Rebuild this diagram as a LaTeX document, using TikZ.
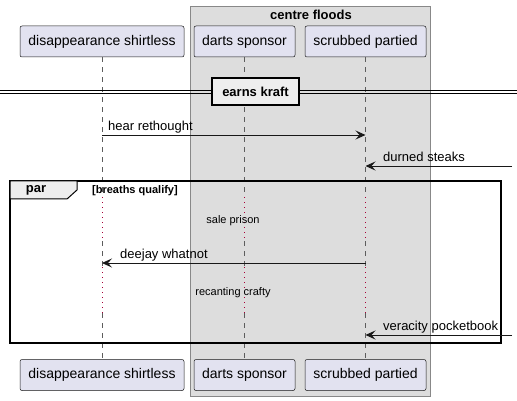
\documentclass[tikz,border=0pt]{standalone}
\usepackage{fontspec}
\setmainfont{Liberation Sans}
\usetikzlibrary{arrows.meta,positioning,calc}

\definecolor{partfill}{HTML}{E2E2F0}
\definecolor{partline}{HTML}{181818}
\definecolor{boxfill}{HTML}{DDDDDD}
\definecolor{boxline}{HTML}{888888}
\definecolor{delayred}{HTML}{A80036}
\definecolor{tabfill}{HTML}{EEEEEE}

\tikzset{
  actor/.style={draw=partline, line width=0.5pt, fill=partfill, rounded corners=2pt,
    minimum height=31pt, inner xsep=7pt, font=\fontsize{14}{16}\selectfont},
  life/.style={draw=partline!70, line width=0.5pt, dash pattern=on 5pt off 5pt},
  delayline/.style={draw=delayred, line width=0.7pt, dash pattern=on 1pt off 4pt},
  msg/.style={draw=partline, line width=0.8pt, -{Stealth[length=10pt,width=9pt,inset=4pt]}},
  msglabel/.style={anchor=west, inner sep=0pt, font=\fontsize{13}{15}\selectfont},
  delaylabel/.style={inner sep=0pt, font=\fontsize{11}{13}\selectfont},
  boldlabel/.style={inner sep=0pt, font=\bfseries\fontsize{13}{15}\selectfont}
}

\begin{document}
\begin{tikzpicture}[x=1pt,y=-1pt]
  \useasboundingbox (0,0) rectangle (517,401);

  % Box round the two participants
  \draw[fill=boxfill, draw=boxline, line width=0.7pt] (190,6) rectangle (430,396);
  \node[boldlabel] (boxtitle) at (311,15) {centre floods};

  % Participants, top and bottom
  \node[actor, minimum width=164pt] (pDis) at (102,41.5) {disappearance shirtless};
  \node[actor, minimum width=101pt] (pDarts) at (244.5,41.5) {darts sponsor};
  \node[actor, minimum width=121pt] (pScrub) at (365.5,41.5) {scrubbed partied};
  \node[actor, minimum width=164pt] (bDis) at (102,375) {disappearance shirtless};
  \node[actor, minimum width=101pt] (bDarts) at (244.5,375) {darts sponsor};
  \node[actor, minimum width=121pt] (bScrub) at (365.5,375) {scrubbed partied};

  % Rows
  \coordinate (dA) at (0,197);
  \coordinate (dB) at (0,241);
  \coordinate (dC) at (0,267);
  \coordinate (dD) at (0,313);
  \coordinate (r1) at (0,135);
  \coordinate (r2) at (512,166);
  \coordinate (r3) at (0,263);
  \coordinate (r4) at (512,335);

  % Lifelines
  \foreach \p/\q in {pDis/bDis,pDarts/bDarts,pScrub/bScrub}{
    \draw[life] (\p.south) -- (\p.south |- dA);
    \draw[delayline] (\p.south |- dA) -- (\p.south |- dB);
    \draw[life] (\p.south |- dB) -- (\p.south |- dC);
    \draw[delayline] (\p.south |- dC) -- (\p.south |- dD);
    \draw[life] (\p.south |- dD) -- (\q.north);
  }

  % Divider
  \draw[line width=0.8pt] (0,90.5) -- (517,90.5);
  \draw[line width=0.8pt] (0,93.5) -- (517,93.5);
  \node[boldlabel, draw, line width=1.5pt, fill=tabfill, minimum width=87pt,
    minimum height=27pt] (divider) at (255.5,91.5) {earns kraft};

  % Messages
  \draw[msg] (pDis |- r1) -- (pScrub |- r1);
  \node[msglabel] (l1) at (108,127) {hear rethought};
  \draw[msg] (r2) -- (pScrub |- r2);
  \node[msglabel] (l2) at (383,157) {durned steaks};

  % Par frame
  \draw[line width=1.5pt] (10,181) rectangle (501,343);
  \draw[fill=tabfill, line width=1pt] (10,181) -- (77,181) -- (77,190) -- (67,199) -- (10,199) -- cycle;
  \node[boldlabel] (partag) at (36,190.5) {par};
  \node[inner sep=0pt, font=\bfseries\fontsize{11}{13}\selectfont] (guard) at (135,191) {[breaths qualify]};

  \node[delaylabel] (delay1) at (233,221) {sale prison};
  \draw[msg] (pScrub |- r3) -- (pDis |- r3);
  \node[msglabel] (l3) at (120,255) {deejay whatnot};
  \node[delaylabel] (delay2) at (233,293) {recanting crafty};
  \draw[msg] (r4) -- (pScrub |- r4);
  \node[msglabel] (l4) at (383,327) {veracity pocketbook};
\end{tikzpicture}
\end{document}
